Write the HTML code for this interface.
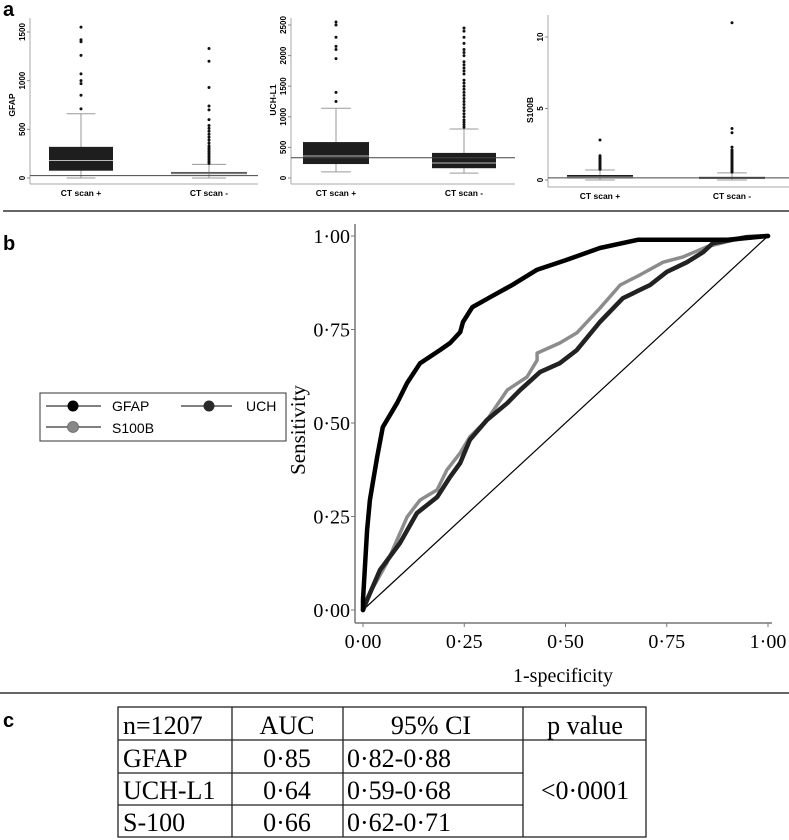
<!DOCTYPE html>
<html><head><meta charset="utf-8"><style>
html,body{margin:0;padding:0;background:#fff;}
body{width:789px;height:840px;position:relative;overflow:hidden;font-family:"Liberation Sans",sans-serif;}
svg{position:absolute;left:0;top:0;}
</style></head><body>
<svg id="fig" width="789" height="840" viewBox="0 0 789 840" xmlns="http://www.w3.org/2000/svg">
  <text x="3" y="16" font-size="20" font-weight="bold">a</text>
  <text x="3" y="250" font-size="20" font-weight="bold">b</text>
  <text x="3" y="727" font-size="20" font-weight="bold">c</text>
  <line x1="3" y1="211" x2="789" y2="211" stroke="#666" stroke-width="2"/>
  <line x1="0" y1="693" x2="789" y2="693" stroke="#666" stroke-width="2"/>
  <g id="boxes"></g>
  <g id="roc"></g>
  <g>
    <rect x="40" y="393" width="246" height="48" fill="#fff" stroke="#333" stroke-width="1"/>
    <g>
      <line x1="46" y1="406" x2="101" y2="406" stroke="#000"/><circle cx="73" cy="406" r="5.5" fill="#000"/>
      <text x="112" y="411" font-size="14">GFAP</text></g>
    <g>
      <line x1="181" y1="406" x2="232" y2="406" stroke="#000"/><circle cx="209" cy="406" r="5.5" fill="#2a2a2a"/>
      <text x="246" y="411" font-size="14">UCH</text></g>
    <g>
      <line x1="46" y1="427" x2="101" y2="427" stroke="#000"/><circle cx="73" cy="427" r="5.5" fill="#888" stroke="#666" stroke-width="0.8"/>
      <text x="112" y="433" font-size="14">S100B</text></g>
  </g>
  <g font-family="Liberation Serif, serif" font-size="26">
    <rect x="118" y="707" width="528" height="130" fill="none" stroke="#222" stroke-width="1.3"/>
    <line x1="118" y1="740" x2="646" y2="740" stroke="#222" stroke-width="1.3"/>
    <line x1="118" y1="773" x2="523" y2="773" stroke="#222" stroke-width="1.3"/>
    <line x1="118" y1="805" x2="523" y2="805" stroke="#222" stroke-width="1.3"/>
    <line x1="232" y1="707" x2="232" y2="837" stroke="#222" stroke-width="1.3"/>
    <line x1="343" y1="707" x2="343" y2="837" stroke="#222" stroke-width="1.3"/>
    <line x1="523" y1="707" x2="523" y2="837" stroke="#222" stroke-width="1.3"/>
    <text x="123" y="734">n=1207</text>
    <text x="287" y="734" text-anchor="middle">AUC</text>
    <text x="431" y="734" text-anchor="middle">95% CI</text>
    <text x="585" y="734" text-anchor="middle">p value</text>
    <text x="123" y="767">GFAP</text>
    <text x="287" y="767" text-anchor="middle">0·85</text>
    <text x="347" y="767">0·82-0·88</text>
    <text x="123" y="799">UCH-L1</text>
    <text x="287" y="799" text-anchor="middle">0·64</text>
    <text x="347" y="799">0·59-0·68</text>
    <text x="123" y="831">S-100</text>
    <text x="287" y="831" text-anchor="middle">0·66</text>
    <text x="347" y="831">0·62-0·71</text>
    <text x="585" y="799" text-anchor="middle">&lt;0·0001</text>
  </g>
</svg>
<script>
// ---- ROC data ----
const gfapFpr = [0,0.0,0.01,0.017,0.035,0.049,0.084,0.109,0.141,0.19,0.215,0.24,0.247,0.27,0.32,0.37,0.43,0.5,0.585,0.68,0.9,1];
const gfapTpr = [0,0.027,0.214,0.294,0.41,0.489,0.553,0.607,0.66,0.695,0.714,0.743,0.77,0.81,0.84,0.87,0.91,0.935,0.968,0.99,0.99,1];
const uchFpr = [0,0.01,0.042,0.091,0.133,0.183,0.215,0.24,0.264,0.306,0.356,0.388,0.437,0.486,0.528,0.585,0.642,0.709,0.75,0.8,0.84,0.864,0.948,1];
const uchTpr = [0,0.027,0.107,0.179,0.259,0.302,0.356,0.393,0.455,0.508,0.553,0.588,0.636,0.66,0.695,0.77,0.834,0.869,0.904,0.93,0.957,0.981,0.997,1];
const s100Fpr = [0,0.017,0.059,0.109,0.141,0.183,0.207,0.24,0.264,0.306,0.356,0.405,0.43,0.43,0.486,0.528,0.585,0.635,0.684,0.741,0.79,0.849,0.914,1];
const s100Tpr = [0,0.045,0.126,0.249,0.294,0.321,0.374,0.42,0.463,0.508,0.588,0.623,0.668,0.687,0.714,0.741,0.807,0.869,0.896,0.93,0.944,0.971,0.989,1];
const rocTicks = [0,0.25,0.5,0.75,1];
const rocTickLabels = ["0·00","0·25","0·50","0·75","1·00"];

// ---- Box plot data ----
const boxCategories = ["CT scan +","CT scan -"];
const gfapStats = [[0,75,180,320,660],[0,40,50,62,140]];
const gfapOut = [[710,850,970,1000,1070,1260,1400,1420,1550],[150,170,190,210,230,250,270,290,310,330,360,390,420,450,480,510,540,600,700,740,930,1200,1330]];
const gfapRef = 25;
const uchStats = [[100,228,360,587,1140],[80,160,245,410,800]];
const uchOut = [[1250,1400,1950,2100,2150,2300,2500,2550],[830,870,910,950,1000,1050,1100,1150,1200,1250,1300,1350,1400,1450,1500,1550,1600,1700,1750,1800,1850,1900,2000,2050,2100,2200,2300,2400,2450]];
const uchRef = 330;
const s100Stats = [[0,0.12,0.2,0.35,0.7],[0,0.1,0.15,0.22,0.5]];
const s100Out = [[0.75,0.8,0.9,1.0,1.1,1.2,1.3,1.4,1.5,1.6,1.7,2.8],[0.55,0.6,0.7,0.8,0.9,1.0,1.1,1.2,1.3,1.4,1.5,1.6,1.7,1.8,1.9,2.0,2.1,2.3,3.3,3.6,11]];
const s100Ref = 0.15;

const NS = "http://www.w3.org/2000/svg";
function mk(tag, attrs, parent){const e=document.createElementNS(NS,tag);for(const k in attrs)e.setAttribute(k,attrs[k]);parent.appendChild(e);return e;}

// ROC
const roc = document.getElementById('roc');
const rx = v => 363 + v*405;
const ry = v => 610 - v*374;
const yAx = mk('line',{x1:355,y1:224,x2:355,y2:623,stroke:'#777','stroke-width':1.5},roc);


const xAx = mk('line',{x1:355,y1:623,x2:772,y2:623,stroke:'#777','stroke-width':1.5},roc);


rocTicks.forEach((t,i)=>{
  mk('line',{x1:351,y1:ry(t),x2:355,y2:ry(t),stroke:'#777'},roc);
  const yl = mk('text',{x:350,y:ry(t)+7,'text-anchor':'end','font-family':'Liberation Serif, serif','font-size':20},roc);
  yl.textContent = rocTickLabels[i];
  
  
  mk('line',{x1:rx(t),y1:623,x2:rx(t),y2:627,stroke:'#777'},roc);
  const xl = mk('text',{x:rx(t),y:648,'text-anchor':'middle','font-family':'Liberation Serif, serif','font-size':20},roc);
  xl.textContent = rocTickLabels[i];
  
  
});
const yt = mk('text',{x:0,y:0,transform:'translate(305,430) rotate(-90)','text-anchor':'middle','font-family':'Liberation Serif, serif','font-size':21},roc);
yt.textContent='Sensitivity';


const xt = mk('text',{x:563,y:682,'text-anchor':'middle','font-family':'Liberation Serif, serif','font-size':20},roc);
xt.textContent='1-specificity';


const diag = mk('line',{x1:rx(0),y1:ry(0),x2:rx(1),y2:ry(1),stroke:'#000','stroke-width':1.2},roc);


function curve(xs,ys,color,w,name){
  const pts = xs.map((x,i)=>rx(x).toFixed(1)+','+ry(ys[i]).toFixed(1)).join(' ');
  const p = mk('polyline',{points:pts,fill:'none',stroke:color,'stroke-width':w,'stroke-linejoin':'round','stroke-linecap':'round'},roc);
  
  
}
curve(s100Fpr,s100Tpr,'#8c8c8c',3.5,'roc-curve-s100b');
curve(uchFpr,uchTpr,'#222',4.5,'roc-curve-uch');
curve(gfapFpr,gfapTpr,'#000',4.5,'roc-curve-gfap');

// Box plots
const boxes = document.getElementById('boxes');
function panel(cfg){
  const g = mk('g',{},boxes);
  
  
  const sy = v => cfg.y0 - v*cfg.scale;
  mk('line',{x1:cfg.ax,y1:cfg.top,x2:cfg.ax,y2:cfg.bottom,stroke:'#aaa','stroke-width':1},g);
  mk('line',{x1:cfg.ax,y1:cfg.bottom,x2:cfg.right,y2:cfg.bottom,stroke:'#aaa','stroke-width':1},g);
  cfg.ticks.forEach(t=>{
    mk('line',{x1:cfg.ax-3,y1:sy(t),x2:cfg.ax,y2:sy(t),stroke:'#888'},g);
    const tl = mk('text',{x:0,y:0,transform:`translate(${cfg.ax-5},${sy(t)}) rotate(-90)`,'text-anchor':'middle','font-size':8,'font-weight':'bold'},g);
    tl.textContent = String(t);
    
    
  });
  const ti = mk('text',{x:0,y:0,transform:`translate(${cfg.ax-15},${cfg.titleY}) rotate(-90)`,'text-anchor':'middle','font-size':8.5,'font-weight':'bold'},g);
  ti.textContent = cfg.title;
  
  
  cfg.stats.forEach((s,i)=>{
    const cx = cfg.centers[i], hw = cfg.hw[i];
    mk('line',{x1:cx,y1:sy(s[4]),x2:cx,y2:sy(s[0]),stroke:'#999','stroke-width':1},g);
    mk('line',{x1:cx-hw*0.45,y1:sy(s[4]),x2:cx+hw*0.45,y2:sy(s[4]),stroke:'#999','stroke-width':1},g);
    mk('line',{x1:cx-hw*0.45,y1:sy(s[0]),x2:cx+hw*0.45,y2:sy(s[0]),stroke:'#999','stroke-width':1},g);
    const b = mk('rect',{x:cx-hw,y:sy(s[3]),width:hw*2,height:Math.max(2,sy(s[1])-sy(s[3])),fill:'#1e1e1e'},g);
    
    
    mk('line',{x1:cx-hw,y1:sy(s[2]),x2:cx+hw,y2:sy(s[2]),stroke:'#bbb','stroke-width':1},g);
    cfg.out[i].forEach(v=>{
      const d = mk('circle',{cx:cx,cy:sy(v),r:1.5,fill:'#111'},g);
      
      
    });
    const cl = mk('text',{x:cx,y:cfg.bottom+12,'text-anchor':'middle','font-size':8.5,'font-weight':'bold'},g);
    cl.textContent = boxCategories[i];
    
    
  });
  const r = mk('line',{x1:cfg.ax,y1:sy(cfg.ref),x2:cfg.right,y2:sy(cfg.ref),stroke:'#444','stroke-width':1},g);
  
  
}
panel({name:'gfap-boxplot',ax:30,y0:178,scale:146/1500,top:18,bottom:184,right:258,centers:[81,209],hw:[32,38],ticks:[0,500,1000,1500],title:'GFAP',titleY:105,stats:gfapStats,out:gfapOut,ref:gfapRef});
panel({name:'uch-boxplot',ax:291,y0:178,scale:153/2500,top:18,bottom:184,right:515,centers:[336,464],hw:[33,32],ticks:[0,500,1000,1500,2000,2500],title:'UCH-L1',titleY:100,stats:uchStats,out:uchOut,ref:uchRef});
panel({name:'s100b-boxplot',ax:548,y0:180,scale:14.3,top:15,bottom:187,right:789,centers:[600,732],hw:[33,33],ticks:[0,5,10],title:'S100B',titleY:110,stats:s100Stats,out:s100Out,ref:s100Ref});
</script>
</body></html>
